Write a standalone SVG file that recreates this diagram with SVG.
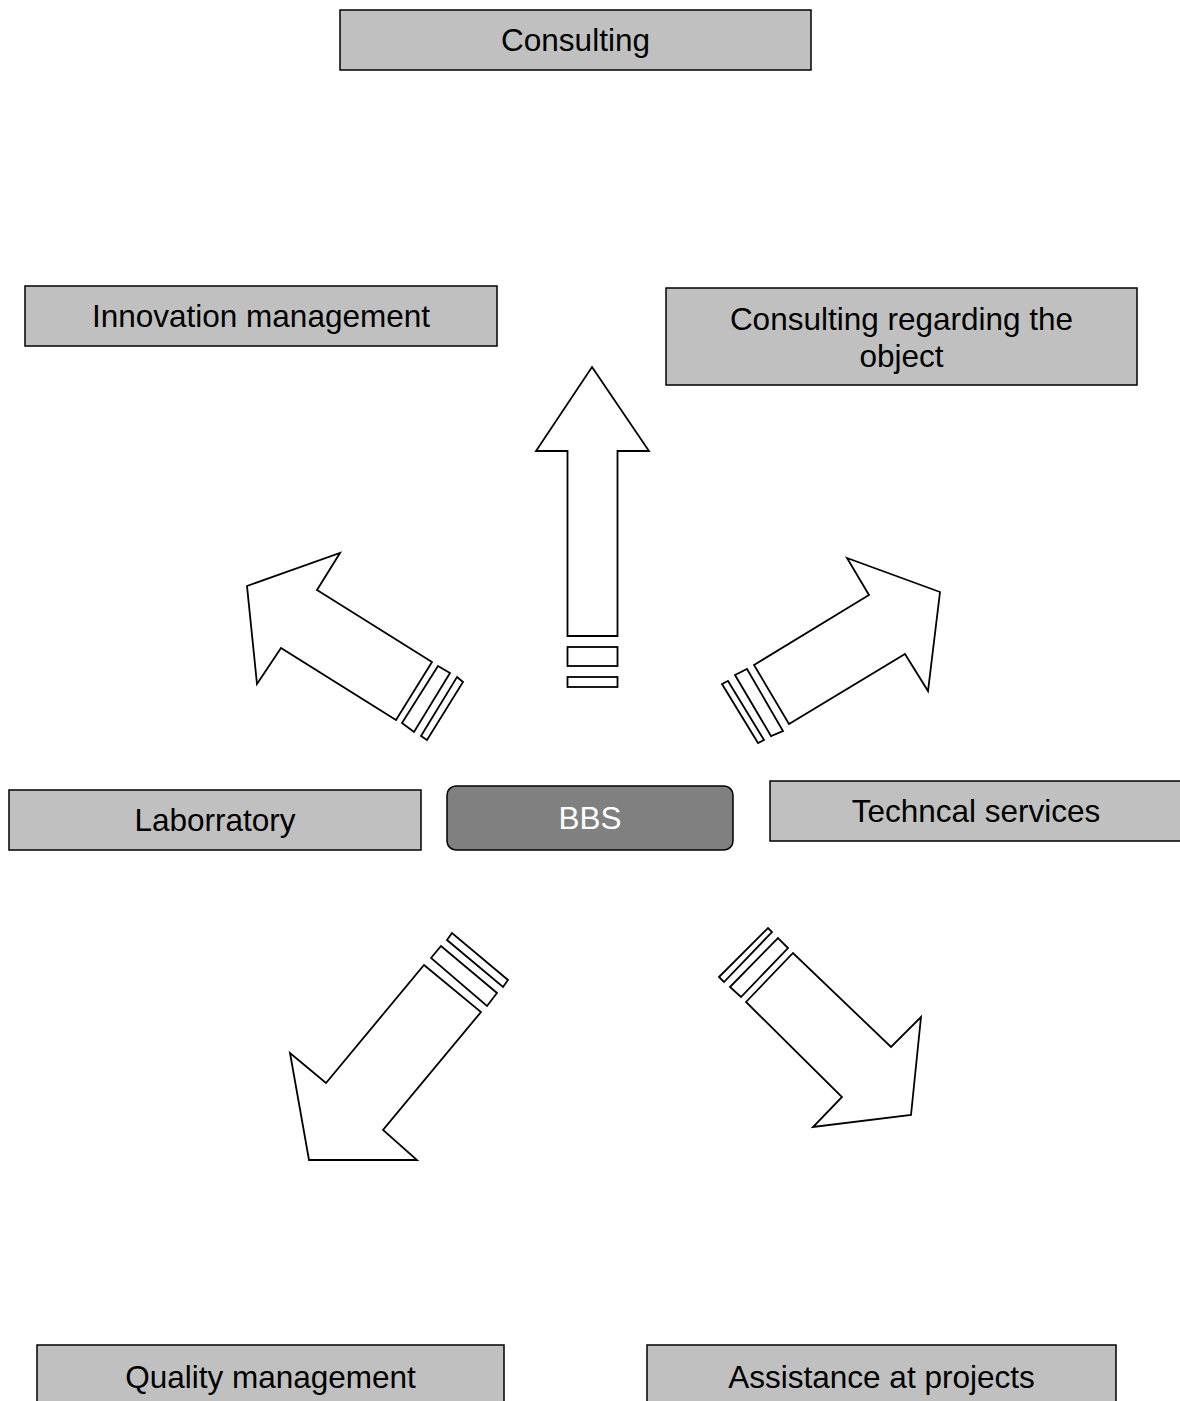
<svg xmlns="http://www.w3.org/2000/svg" width="1180" height="1401" viewBox="0 0 1180 1401">
<style>
.box{fill:#c0c0c0;stroke:#000;stroke-width:1.5}
.core{fill:#808080;stroke:#000;stroke-width:1.5}
.lbl{font-family:"Liberation Sans",Arial,sans-serif;font-size:31.5px;fill:#000;text-anchor:middle}
.wlbl{font-family:"Liberation Sans",Arial,sans-serif;font-size:31.5px;fill:#fff;text-anchor:middle}
.arr{fill:#fff;stroke:#000;stroke-width:1.8;stroke-linejoin:miter}
</style>
<rect width="1180" height="1401" fill="#fff"/>
<g id="connectors">
  <g id="arrow-up">
    <polygon class="arr" points="592,367 649,451 617.5,451 617.5,636 567.5,636 567.5,451 536,451"/>
    <rect class="arr" x="567.5" y="647" width="50" height="19"/>
    <rect class="arr" x="567.5" y="677" width="50" height="10"/>
  </g>
  <g id="arrow-upleft">
    <polygon class="arr" points="340,553 317,590 432,662 396,720 281,648 257,684 247,586"/>
    <polygon class="arr" points="438,666 450,673 414,732 402,723"/>
    <polygon class="arr" points="457,677 463,682 427,740 421,736"/>
  </g>
  <g id="arrow-upright">
    <polygon class="arr" points="847,558 940,592 928,691 905,654 789,724 754,665 869,595"/>
    <polygon class="arr" points="735,675 747,669 783,731 771,736"/>
    <polygon class="arr" points="722,684 728,681 764,740 758,743"/>
  </g>
  <g id="arrow-downleft">
    <polygon class="arr" points="424,965 481,1012 383,1130 417,1160 309,1160 290,1053 326,1083"/>
    <polygon class="arr" points="431,958 441,946 497,993 487,1006"/>
    <polygon class="arr" points="447,940 452,933 508,980 503,987"/>
  </g>
  <g id="arrow-downright">
    <polygon class="arr" points="746,1002 793,953 891,1047 921,1017 911,1115 813,1127 842,1097"/>
    <polygon class="arr" points="730,987 778,938 788,948 741,997"/>
    <polygon class="arr" points="719,977 768,928 772,932 724,982"/>
  </g>
</g>
<g id="consulting">
  <rect class="box" x="340" y="10" width="471" height="60"/>
  <text class="lbl" x="575.5" y="51">Consulting</text>
</g>
<g id="innovation">
  <rect class="box" x="25" y="286" width="472" height="60"/>
  <text class="lbl" x="261" y="327">Innovation management</text>
</g>
<g id="consulting-object">
  <rect class="box" x="666" y="288" width="471" height="97"/>
  <text class="lbl" x="901.5" y="330">Consulting regarding the</text>
  <text class="lbl" x="901.5" y="367">object</text>
</g>
<g id="laboratory">
  <rect class="box" x="9" y="790" width="412" height="60"/>
  <text class="lbl" x="215" y="831">Laborratory</text>
</g>
<g id="bbs">
  <rect class="core" x="447" y="786" width="286" height="64" rx="9" ry="9"/>
  <text class="wlbl" x="590" y="829">BBS</text>
</g>
<g id="technical">
  <rect class="box" x="770" y="781" width="414" height="60"/>
  <text class="lbl" x="976" y="822">Techncal services</text>
</g>
<g id="quality">
  <rect class="box" x="37" y="1345" width="467" height="64"/>
  <text class="lbl" x="270.5" y="1388">Quality management</text>
</g>
<g id="assistance">
  <rect class="box" x="647" y="1345" width="469" height="64"/>
  <text class="lbl" x="881.5" y="1388">Assistance at projects</text>
</g>
</svg>
